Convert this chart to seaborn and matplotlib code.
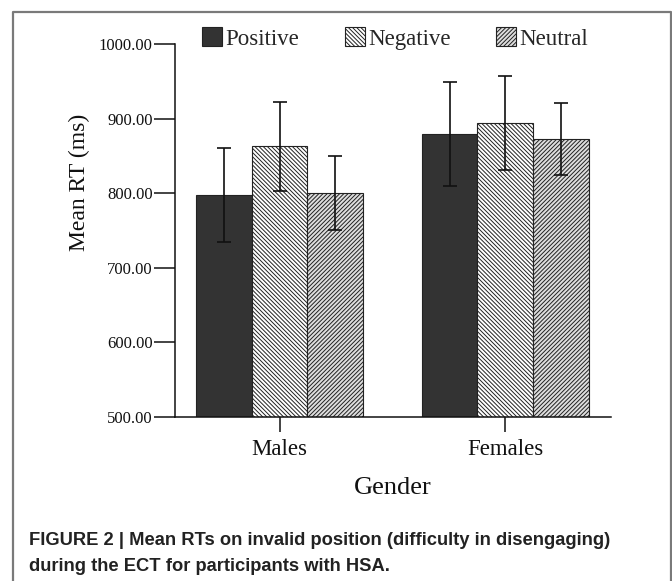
"""Mean RTs on invalid position by gender and face condition (grouped bars with hatching)."""

import matplotlib

matplotlib.use("Agg")
import matplotlib.patches as mpatches
import matplotlib.pyplot as plt
from matplotlib.lines import Line2D
import pandas as pd
import seaborn as sns

# data
genders = ["Males", "Females"]
conditions = ["Positive", "Negative", "Neutral"]
mean_rt = {
    "Positive": [798, 880],
    "Negative": [863, 894],
    "Neutral": [800, 873],
}
err_rt = {
    "Positive": [63, 70],
    "Negative": [60, 63],
    "Neutral": [50, 48],
}
y_ticks = [500, 600, 700, 800, 900, 1000]

bar_colors = {"Positive": "#333333", "Negative": "#ffffff", "Neutral": "#dedede"}
bar_hatches = {"Positive": "", "Negative": "\\" * 8, "Neutral": "/" * 8}

SERIF = ["Liberation Serif", "DejaVu Serif"]

sns.set_theme(style="white")
plt.rcParams["font.family"] = SERIF
plt.rcParams["hatch.linewidth"] = 0.7

rows = []
for cond in conditions:
    for g, m in zip(genders, mean_rt[cond]):
        rows.append({"Gender": g, "Condition": cond, "RT": m})
df = pd.DataFrame(rows)

fig = plt.figure(figsize=(6.72, 5.81), dpi=100)
ax = fig.add_axes([0.2604, 0.2828, 0.6488, 0.641])

sns.barplot(
    data=df, x="Gender", y="RT", hue="Condition",
    order=genders, hue_order=conditions,
    palette=bar_colors, width=0.74, errorbar=None,
    edgecolor="#222222", linewidth=0.8, legend=False, ax=ax,
)

for cond, cont in zip(conditions, ax.containers):
    xs, ys = [], []
    for bar in cont:
        bar.set_hatch(bar_hatches[cond])
        bar.set_edgecolor("#222222")
        xs.append(bar.get_x() + bar.get_width() / 2)
        ys.append(bar.get_height())
    ax.errorbar(xs, ys, yerr=err_rt[cond], fmt="none", ecolor="#111111",
                elinewidth=1.2, capsize=5, capthick=1.2, zorder=5)

ax.set_ylim(500, 1000)
ax.set_xlim(-0.463, 1.468)
ax.set_yticks(y_ticks)
ax.set_yticklabels([f"{v:.2f}" for v in y_ticks], fontsize=12)
ax.tick_params(axis="y", length=15, width=1.1, direction="out", pad=1, left=True, color="#111111")
ax.tick_params(axis="x", length=11, width=1.1, direction="out", pad=5, bottom=True, color="#111111",
               labelsize=16.5)
for s in ["top", "right"]:
    ax.spines[s].set_visible(False)
for s in ["left", "bottom"]:
    ax.spines[s].set_color("#111111")
    ax.spines[s].set_linewidth(1.1)
ax.set_xlabel("Gender", fontsize=19, labelpad=12, color="#111111")
ax.set_ylabel("Mean RT (ms)", fontsize=17, color="#111111")
ax.yaxis.set_label_coords(-0.195, 0.628)
for lab in ax.get_xticklabels() + ax.get_yticklabels():
    lab.set_color("#111111")

handles = [
    mpatches.Patch(facecolor=bar_colors[c], edgecolor="#222222", hatch=bar_hatches[c],
                   linewidth=0.8, label=c)
    for c in conditions
]
fig.legend(handles=handles, loc="center", bbox_to_anchor=(395 / 672, 1 - 38.5 / 581),
           ncol=3, frameon=False, handlelength=0.87, handleheight=0.87,
           handletextpad=0.15, columnspacing=2.0, borderpad=0, prop={"family": SERIF, "size": 16.5})

# panel frame (open at the bottom, as in the page crop)
fx0, fx1, fy_top = 13 / 672, 671 / 672, 1 - 12 / 581
fig.add_artist(Line2D([fx0, fx0, fx1, fx1], [0, fy_top, fy_top, 0], color="#7a7a7a",
                      linewidth=1.6, transform=fig.transFigure))

caption = ("FIGURE 2 | Mean RTs on invalid position (difficulty in disengaging)\n"
           "during the ECT for participants with HSA.")
fig.text(29 / 672, 1 - 532 / 581, caption, ha="left", va="top", fontsize=13.2,
         fontweight="bold", color="#222222", linespacing=1.7,
         family=["Liberation Sans", "DejaVu Sans"])

fig.savefig("out.png", dpi=100, facecolor="white")
